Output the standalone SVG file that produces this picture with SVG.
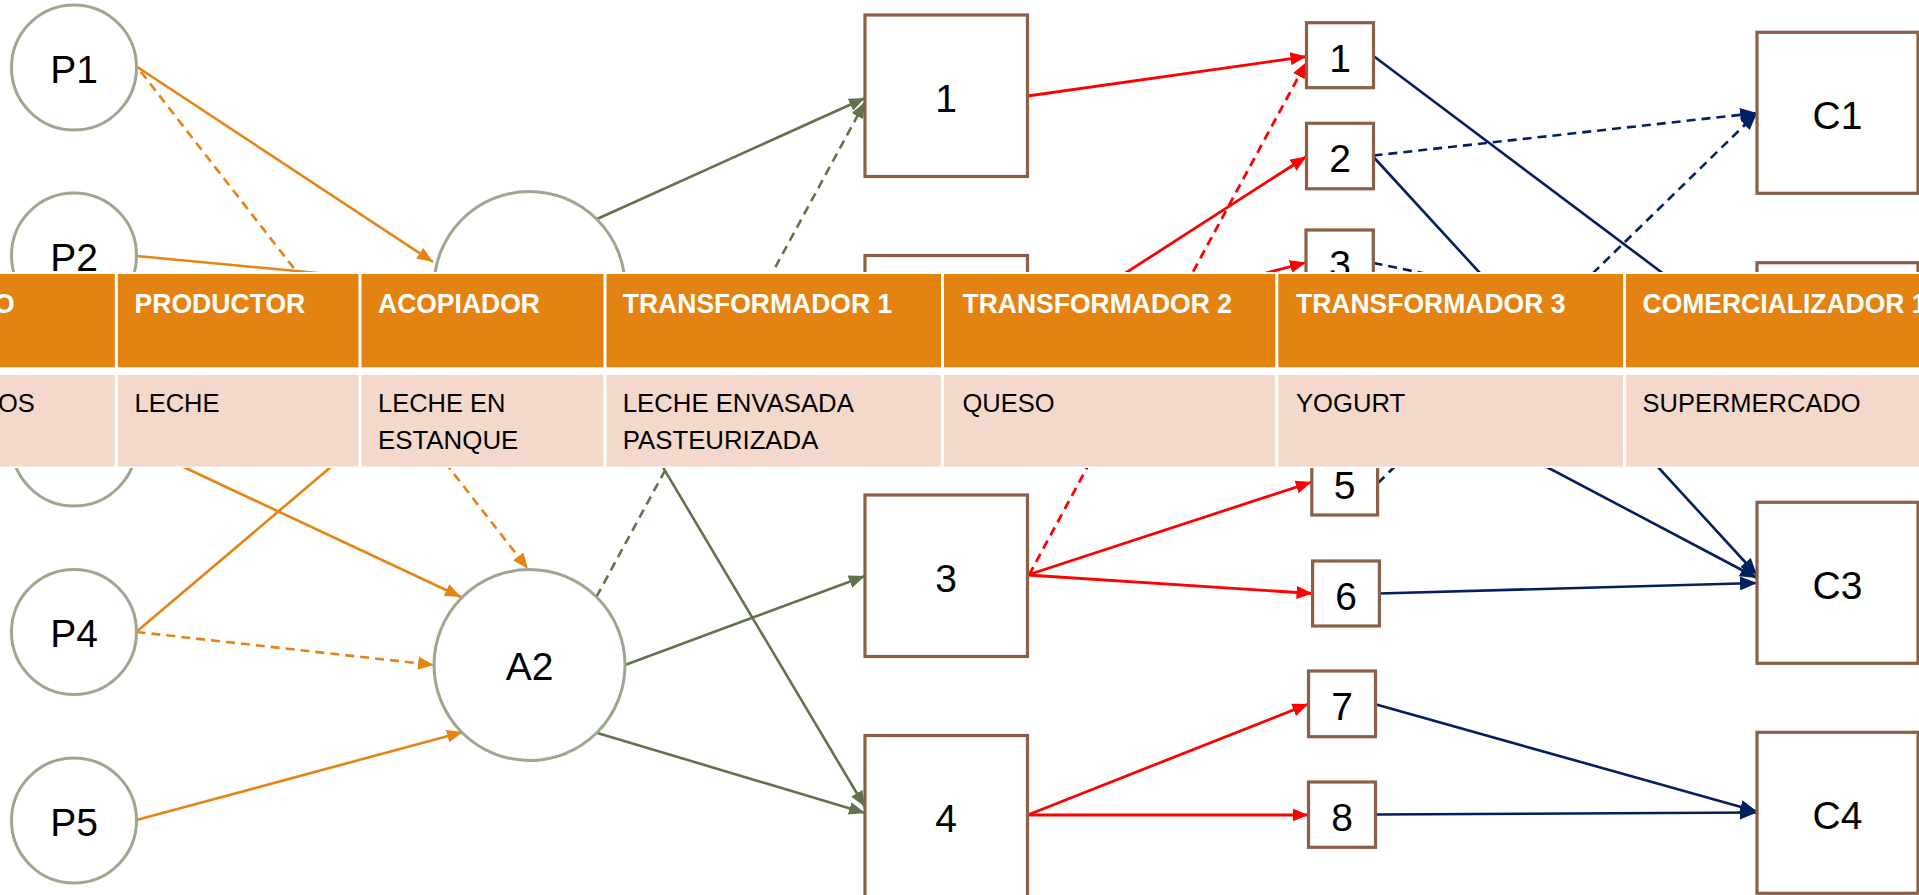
<svg xmlns="http://www.w3.org/2000/svg" width="1919" height="895" viewBox="0 0 1919 895">
  <style>
    .bg { fill: #ffffff; }
    .circ { fill: #ffffff; stroke: #9BA78F; stroke-width: 3; }
    .box { fill: #ffffff; stroke: #8C5F47; stroke-width: 3.2; }
    .lbl { font-family: "Liberation Sans", Arial, sans-serif; font-size: 39px; text-anchor: middle; fill: #000000; }
    .edge { fill: none; stroke-width: 2.6; }
    .or { stroke: #E58413; }
    .gr { stroke: #62724C; }
    .rd { stroke: #FF0000; stroke-width: 2.8; }
    .nv { stroke: #002060; stroke-width: 2.6; }
    .dash { stroke-dasharray: 9 6; }
    .hd { font-family: "Liberation Sans", Arial, sans-serif; font-size: 28px; font-weight: bold; fill: #ffffff; }
    .cell { font-family: "Liberation Sans", Arial, sans-serif; font-size: 26.5px; fill: #000000; }
  </style>
  <defs>
    <marker id="ah-or" markerUnits="userSpaceOnUse" markerWidth="16" markerHeight="13" refX="16" refY="6.5" orient="auto">
      <path d="M0,0 L16,6.5 L0,13 z" fill="#E58413"/>
    </marker>
    <marker id="ah-gr" markerUnits="userSpaceOnUse" markerWidth="16" markerHeight="13" refX="16" refY="6.5" orient="auto">
      <path d="M0,0 L16,6.5 L0,13 z" fill="#62724C"/>
    </marker>
    <marker id="ah-rd" markerUnits="userSpaceOnUse" markerWidth="16" markerHeight="13" refX="16" refY="6.5" orient="auto">
      <path d="M0,0 L16,6.5 L0,13 z" fill="#FF0000"/>
    </marker>
    <marker id="ah-nv" markerUnits="userSpaceOnUse" markerWidth="17" markerHeight="14" refX="17" refY="7" orient="auto">
      <path d="M0,0 L17,7 L0,14 z" fill="#002060"/>
    </marker>
  </defs>

  <rect class="bg" x="0" y="0" width="1919" height="895"/>

  <!-- connectors -->
  <g id="connectors">
    <!-- producers to collectors -->
    <line class="edge or" x1="136.5" y1="66.5" x2="433" y2="262" marker-end="url(#ah-or)"/>
    <line class="edge or dash" x1="140.8" y1="71.7" x2="528" y2="569" marker-end="url(#ah-or)"/>
    <line class="edge or" x1="136.5" y1="256" x2="434" y2="284" marker-end="url(#ah-or)"/>
    <line class="edge or" x1="136.5" y1="445" x2="461" y2="597" marker-end="url(#ah-or)"/>
    <line class="edge or" x1="136.5" y1="631.7" x2="463" y2="355" marker-end="url(#ah-or)"/>
    <line class="edge or dash" x1="136.5" y1="632" x2="434" y2="665" marker-end="url(#ah-or)"/>
    <line class="edge or" x1="136.5" y1="820" x2="463" y2="732" marker-end="url(#ah-or)"/>

    <!-- collectors to processors -->
    <line class="edge gr" x1="596.5" y1="219.3" x2="865" y2="98" marker-end="url(#ah-gr)"/>
    <line class="edge gr dash" x1="596.5" y1="596.7" x2="865" y2="102" marker-end="url(#ah-gr)"/>
    <line class="edge gr" x1="596.3" y1="355.2" x2="865" y2="807" marker-end="url(#ah-gr)"/>
    <line class="edge gr" x1="625" y1="665" x2="865" y2="576" marker-end="url(#ah-gr)"/>
    <line class="edge gr" x1="596.5" y1="732.7" x2="865" y2="813" marker-end="url(#ah-gr)"/>

    <!-- processors to products -->
    <line class="edge rd" x1="1027.6" y1="96" x2="1306.5" y2="56.5" marker-end="url(#ah-rd)"/>
    <line class="edge rd dash" x1="1029" y1="575" x2="1306.5" y2="62" marker-end="url(#ah-rd)"/>
    <line class="edge rd" x1="1027.6" y1="336" x2="1306.5" y2="156.5" marker-end="url(#ah-rd)"/>
    <line class="edge rd" x1="1027.6" y1="336" x2="1306" y2="262.5" marker-end="url(#ah-rd)"/>
    <line class="edge rd" x1="1027.6" y1="575" x2="1311.8" y2="482" marker-end="url(#ah-rd)"/>
    <line class="edge rd" x1="1027.6" y1="575" x2="1312.6" y2="593.5" marker-end="url(#ah-rd)"/>
    <line class="edge rd" x1="1027.6" y1="815" x2="1308.5" y2="704" marker-end="url(#ah-rd)"/>
    <line class="edge rd" x1="1027.6" y1="815" x2="1308.5" y2="815" marker-end="url(#ah-rd)"/>

    <!-- products to retailers -->
    <line class="edge nv" x1="1373.5" y1="56" x2="1757" y2="344" marker-end="url(#ah-nv)"/>
    <line class="edge nv dash" x1="1373.5" y1="155.5" x2="1757" y2="113" marker-end="url(#ah-nv)"/>
    <line class="edge nv" x1="1373.5" y1="157" x2="1757" y2="575" marker-end="url(#ah-nv)"/>
    <line class="edge nv dash" x1="1373.5" y1="263" x2="1757" y2="342" marker-end="url(#ah-nv)"/>
    <line class="edge nv" x1="1378" y1="377.8" x2="1757" y2="578" marker-end="url(#ah-nv)"/>
    <line class="edge nv dash" x1="1378" y1="483" x2="1757" y2="113" marker-end="url(#ah-nv)"/>
    <line class="edge nv" x1="1379.4" y1="593.5" x2="1757" y2="583" marker-end="url(#ah-nv)"/>
    <line class="edge nv" x1="1375.4" y1="704.3" x2="1757" y2="811.5" marker-end="url(#ah-nv)"/>
    <line class="edge nv" x1="1375.4" y1="814.5" x2="1757" y2="812.5" marker-end="url(#ah-nv)"/>
  </g>

  <!-- producers -->
  <g id="P1"><circle class="circ" cx="74" cy="67.5" r="62.5"/><text class="lbl" x="74" y="82.5">P1</text></g>
  <g id="P2"><circle class="circ" cx="74" cy="255.5" r="62.5"/><text class="lbl" x="74" y="270.5">P2</text></g>
  <g id="P3"><circle class="circ" cx="74" cy="443.5" r="62.5"/></g>
  <g id="P4"><circle class="circ" cx="74" cy="632" r="62.5"/><text class="lbl" x="74" y="647">P4</text></g>
  <g id="P5"><circle class="circ" cx="74" cy="820.5" r="62.5"/><text class="lbl" x="74" y="835.5">P5</text></g>

  <!-- collectors -->
  <g id="A1"><circle class="circ" cx="529.5" cy="287" r="95.5"/></g>
  <g id="A2"><circle class="circ" cx="529.5" cy="665" r="95.5"/><text class="lbl" x="529.5" y="680">A2</text></g>

  <!-- processors -->
  <g id="T1"><rect class="box" x="865" y="15" width="162.5" height="161.5"/><text class="lbl" x="946" y="111.5">1</text></g>
  <g id="T2"><rect class="box" x="865" y="255.5" width="162.5" height="161.5"/></g>
  <g id="T3"><rect class="box" x="865" y="495" width="162.5" height="161.5"/><text class="lbl" x="946" y="591.5">3</text></g>
  <g id="T4"><rect class="box" x="865" y="735.5" width="162.5" height="161.5"/><text class="lbl" x="946" y="832">4</text></g>

  <!-- products -->
  <g id="S1"><rect class="box" x="1306.5" y="22.7" width="67" height="65"/><text class="lbl" x="1340" y="71.5">1</text></g>
  <g id="S2"><rect class="box" x="1306.5" y="123.3" width="67" height="65.5"/><text class="lbl" x="1340" y="172">2</text></g>
  <g id="S3"><rect class="box" x="1306" y="230" width="67.3" height="65"/><text class="lbl" x="1340" y="278">3</text></g>
  <g id="S5"><rect class="box" x="1311.8" y="450" width="65.8" height="65"/><text class="lbl" x="1344.5" y="499">5</text></g>
  <g id="S6"><rect class="box" x="1312.6" y="561" width="66.8" height="65"/><text class="lbl" x="1346" y="609.5">6</text></g>
  <g id="S7"><rect class="box" x="1308.5" y="671" width="67" height="65.7"/><text class="lbl" x="1342" y="720">7</text></g>
  <g id="S8"><rect class="box" x="1308.5" y="782" width="67" height="65.3"/><text class="lbl" x="1342" y="831">8</text></g>

  <!-- retailers -->
  <g id="C1"><rect class="box" x="1757" y="32.3" width="161" height="161"/><text class="lbl" x="1837.5" y="128.5">C1</text></g>
  <g id="C2"><rect class="box" x="1757" y="262.7" width="161" height="161"/></g>
  <g id="C3"><rect class="box" x="1757" y="502.3" width="161" height="161"/><text class="lbl" x="1837.5" y="599">C3</text></g>
  <g id="C4"><rect class="box" x="1757" y="732.3" width="161" height="161"/><text class="lbl" x="1837.5" y="829">C4</text></g>

  <!-- chain table laid over the graph -->
  <g id="table">
    <rect x="-10" y="272" width="1940" height="196" fill="#ffffff"/>
    <rect x="-10" y="274" width="1940" height="93.3" fill="#E48312"/>
    <rect x="-10" y="375" width="1940" height="91.5" fill="#F5D8CC"/>
    <g fill="#ffffff">
      <rect x="114.8" y="272" width="3" height="196"/>
      <rect x="358.5" y="272" width="3" height="196"/>
      <rect x="603.5" y="272" width="3" height="196"/>
      <rect x="941" y="272" width="3" height="196"/>
      <rect x="1275.3" y="272" width="3" height="196"/>
      <rect x="1623" y="272" width="3" height="196"/>
    </g>
    <text class="hd" x="-6" y="312.7" textLength="20.6" lengthAdjust="spacingAndGlyphs">O</text>
    <text class="hd" x="134.5" y="312.7" textLength="170.8" lengthAdjust="spacingAndGlyphs">PRODUCTOR</text>
    <text class="hd" x="378" y="312.7" textLength="161.9" lengthAdjust="spacingAndGlyphs">ACOPIADOR</text>
    <text class="hd" x="622.8" y="312.7" textLength="269.4" lengthAdjust="spacingAndGlyphs">TRANSFORMADOR 1</text>
    <text class="hd" x="962.5" y="312.7" textLength="269.4" lengthAdjust="spacingAndGlyphs">TRANSFORMADOR 2</text>
    <text class="hd" x="1296" y="312.7" textLength="269.4" lengthAdjust="spacingAndGlyphs">TRANSFORMADOR 3</text>
    <text class="hd" x="1642.5" y="312.7" textLength="284.1" lengthAdjust="spacingAndGlyphs">COMERCIALIZADOR 1</text>

    <text class="cell" x="-2" y="411.5" textLength="36.8" lengthAdjust="spacingAndGlyphs">OS</text>
    <text class="cell" x="134.5" y="411.5" textLength="85" lengthAdjust="spacingAndGlyphs">LECHE</text>
    <text class="cell" x="378" y="411.5" textLength="127.5" lengthAdjust="spacingAndGlyphs">LECHE EN</text>
    <text class="cell" x="378" y="449.3" textLength="140.3" lengthAdjust="spacingAndGlyphs">ESTANQUE</text>
    <text class="cell" x="622.8" y="411.5" textLength="231" lengthAdjust="spacingAndGlyphs">LECHE ENVASADA</text>
    <text class="cell" x="622.8" y="449.3" textLength="195.5" lengthAdjust="spacingAndGlyphs">PASTEURIZADA</text>
    <text class="cell" x="962.5" y="411.5" textLength="92.1" lengthAdjust="spacingAndGlyphs">QUESO</text>
    <text class="cell" x="1296" y="411.5" textLength="109.1" lengthAdjust="spacingAndGlyphs">YOGURT</text>
    <text class="cell" x="1642.5" y="411.5" textLength="218.2" lengthAdjust="spacingAndGlyphs">SUPERMERCADO</text>
  </g>
</svg>
